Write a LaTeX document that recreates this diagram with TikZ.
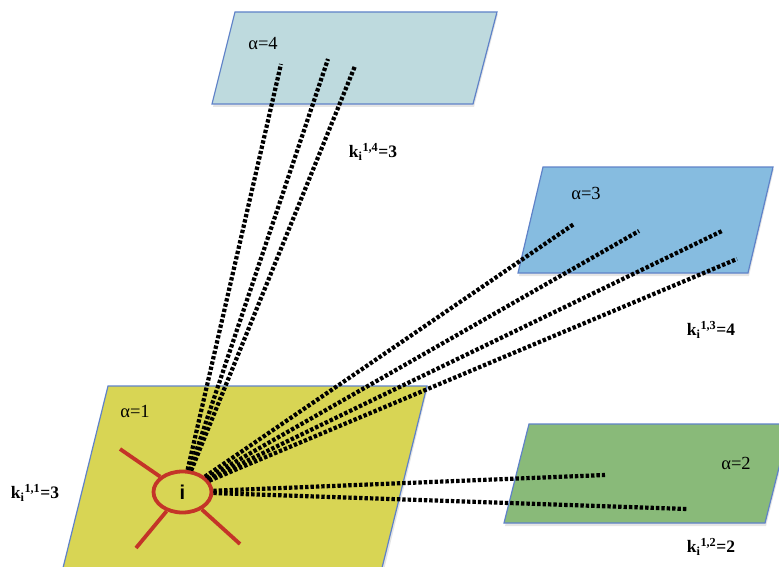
\documentclass[tikz,border=0pt]{standalone}
\usepackage{fontspec}
\setmainfont{Liberation Serif}
\newfontfamily\sansf{Liberation Sans}
\usetikzlibrary{shapes.geometric}
\definecolor{planeYellow}{RGB}{216,213,84}
\definecolor{planeLight}{RGB}{190,218,222}
\definecolor{planeBlue}{RGB}{134,188,224}
\definecolor{planeGreen}{RGB}{137,186,121}
\definecolor{edgeBlue}{RGB}{95,130,200}
\definecolor{spokeRed}{RGB}{196,52,40}
\begin{document}
\begin{tikzpicture}[x=1pt,y=-1pt,
  plane/.style={draw=edgeBlue, line width=1.2pt, line join=miter},
  shadowed/.style={fill=black, opacity=0.10},
  dotline/.style={line width=4.2pt, dash pattern=on 3.4pt off 2pt, black},
  spoke/.style={spokeRed, line width=3.8pt},
  alab/.style={font=\fontsize{18.5}{21}\selectfont, inner sep=0pt},
  klab/.style={font=\bfseries\fontsize{17.5}{20}\selectfont, inner sep=0pt},
  hub/.style={ellipse, draw=spokeRed, line width=3.8pt, fill=planeYellow,
    minimum width=58pt, minimum height=41pt, inner sep=0pt,
    font=\sansf\bfseries\fontsize{20}{22}\selectfont}
]
\useasboundingbox (0,0) rectangle (779,567);
% shadows
\fill[shadowed] (109,388) -- (428,388) -- (383,574) -- (64,574) -- cycle;
\fill[shadowed] (236,14) -- (498,14) -- (474,107) -- (213,107) -- cycle;
\fill[shadowed] (544,169) -- (774,169) -- (749,276) -- (519,276) -- cycle;
\fill[shadowed] (530,426) -- (791,426) -- (766,526) -- (505,526) -- cycle;
% planes
\draw[plane, fill=planeYellow] (108,386) -- (427,386) -- (381,572) -- (62,572) -- cycle;
\draw[plane, fill=planeLight] (235,12) -- (497,12) -- (473,104) -- (212,104) -- cycle;
\draw[plane, fill=planeBlue] (543,167) -- (773,167) -- (748,273) -- (518,273) -- cycle;
\draw[plane, fill=planeGreen] (529,424) -- (790,424) -- (765,523) -- (504,523) -- cycle;
% hub and spokes
\node[hub] (i) at (182.5,492) {i};
\coordinate (s1) at (120,449);
\coordinate (s2) at (136,548);
\coordinate (s3) at (240,544);
\draw[spoke] (s1) -- (i);
\draw[spoke] (s2) -- (i);
\draw[spoke] (s3) -- (i);
% endpoints
\coordinate (a4a) at (281,64);
\coordinate (a4b) at (328,59);
\coordinate (a4c) at (355,66);
\coordinate (a3a) at (574,224);
\coordinate (a3b) at (639,231);
\coordinate (a3c) at (722,231);
\coordinate (a3d) at (737,259);
\coordinate (a2a) at (605,475);
\coordinate (a2b) at (687,509);
\foreach \e in {a4a,a4b,a4c,a3a,a3b,a3c,a3d,a2a,a2b}
  \draw[dotline] (i) -- (\e);
% labels
\node[alab] (l1) at (135,411) {α=1};
\node[alab] (l4) at (263,44) {α=4};
\node[alab] (l3) at (586,193) {α=3};
\node[alab] (l2) at (736,463) {α=2};
\node[klab] (k1) at (35,493) {k\textsubscript{i}\textsuperscript{1,1}=3};
\node[klab] (k4) at (373,152) {k\textsubscript{i}\textsuperscript{1,4}=3};
\node[klab] (k3) at (711,330) {k\textsubscript{i}\textsuperscript{1,3}=4};
\node[klab] (k2) at (711,547) {k\textsubscript{i}\textsuperscript{1,2}=2};
\end{tikzpicture}
\end{document}
